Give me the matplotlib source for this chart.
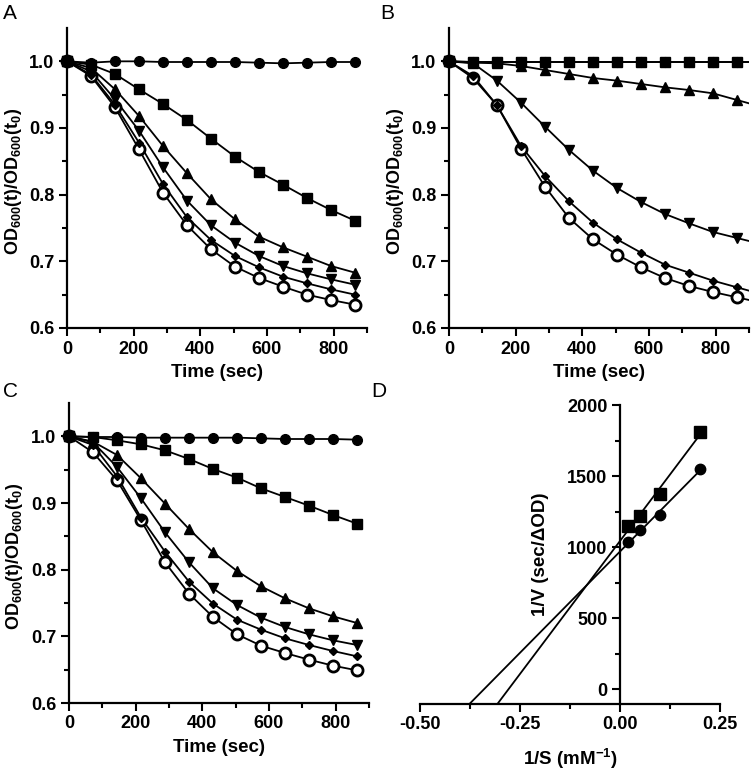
import numpy as np
import matplotlib
matplotlib.use("Agg")
import matplotlib.pyplot as plt
from matplotlib.ticker import MultipleLocator, FixedLocator

plt.rcParams['font.family'] = ['Liberation Sans', 'DejaVu Sans']
plt.rcParams['font.weight'] = 'bold'
plt.rcParams['mathtext.default'] = 'regular'

# ---------------- data ----------------
time_s = [0, 72, 144, 216, 288, 360, 432, 504, 576, 648, 720, 792, 864]

# Panel A
a_circle   = [1.0, 0.998, 1.0, 1.0, 0.999, 0.999, 0.999, 0.999, 0.998, 0.997, 0.998, 0.999, 0.999]
a_square   = [1.0, 0.995, 0.981, 0.958, 0.936, 0.912, 0.884, 0.857, 0.834, 0.815, 0.795, 0.777, 0.761]
a_triup    = [1.0, 0.990, 0.958, 0.918, 0.873, 0.832, 0.793, 0.763, 0.737, 0.721, 0.707, 0.693, 0.683]
a_tridown  = [1.0, 0.985, 0.943, 0.896, 0.841, 0.791, 0.754, 0.728, 0.708, 0.693, 0.682, 0.673, 0.665]
a_diamond  = [1.0, 0.980, 0.935, 0.878, 0.816, 0.766, 0.732, 0.708, 0.691, 0.677, 0.667, 0.658, 0.650]
a_open     = [1.0, 0.978, 0.931, 0.868, 0.803, 0.754, 0.718, 0.692, 0.675, 0.662, 0.650, 0.642, 0.635]

# Panel B
b_circle   = [1.0, 0.999, 0.999, 0.999, 0.999, 0.999, 0.999, 0.999, 0.999, 0.999, 0.999, 0.999, 0.999]
b_square   = [1.0, 0.999, 0.999, 0.999, 0.999, 0.999, 0.999, 0.999, 0.999, 0.999, 0.999, 0.999, 0.999]
b_triup    = [1.0, 0.998, 0.997, 0.993, 0.987, 0.981, 0.975, 0.971, 0.966, 0.961, 0.957, 0.952, 0.942]
b_tridown  = [1.0, 0.997, 0.971, 0.938, 0.902, 0.867, 0.836, 0.810, 0.789, 0.771, 0.757, 0.744, 0.735]
b_diamond  = [1.0, 0.978, 0.934, 0.873, 0.828, 0.790, 0.758, 0.733, 0.713, 0.695, 0.683, 0.671, 0.661]
b_open     = [1.0, 0.975, 0.934, 0.869, 0.812, 0.765, 0.733, 0.710, 0.691, 0.675, 0.663, 0.654, 0.646]

# Panel C
c_circle   = [1.0, 0.999, 0.999, 0.998, 0.998, 0.998, 0.998, 0.998, 0.997, 0.996, 0.996, 0.996, 0.995]
c_square   = [1.0, 0.999, 0.994, 0.988, 0.979, 0.966, 0.951, 0.938, 0.922, 0.909, 0.896, 0.882, 0.869]
c_triup    = [1.0, 0.992, 0.972, 0.937, 0.899, 0.861, 0.826, 0.798, 0.775, 0.757, 0.742, 0.730, 0.720]
c_tridown  = [1.0, 0.991, 0.954, 0.907, 0.856, 0.811, 0.772, 0.747, 0.728, 0.714, 0.703, 0.694, 0.687]
c_diamond  = [1.0, 0.987, 0.940, 0.878, 0.827, 0.782, 0.749, 0.725, 0.710, 0.697, 0.687, 0.678, 0.670]
c_open     = [1.0, 0.976, 0.934, 0.874, 0.811, 0.764, 0.729, 0.703, 0.686, 0.675, 0.665, 0.656, 0.649]

# Panel D (Lineweaver-Burk)
inv_s        = [0.02, 0.05, 0.10, 0.20]
inv_v_square = [1149, 1222, 1374, 1812]
inv_v_circle = [1034, 1121, 1226, 1550]

time_ticks = [0, 200, 400, 600, 800]
od_ticks = [0.6, 0.7, 0.8, 0.9, 1.0]
d_xticks = [-0.50, -0.25, 0.00, 0.25]
d_yticks = [0, 500, 1000, 1500, 2000]

# ---------------- figure ----------------
W, H = 756, 773
fig = plt.figure(figsize=(W / 100, H / 100), dpi=100)

def px_axes(left, top, right, bottom):
    return fig.add_axes([left / W, 1 - bottom / H, (right - left) / W, (bottom - top) / H])

TICK_FS = 13
LAB_FS = 13.5
YLAB_FS = 13
LW = 1.3

# (style, zorder): open circles sit underneath the filled markers
styles = [
    (dict(marker='o', ms=7, mfc='black', mec='black'), 4),
    (dict(marker='s', ms=7, mfc='black', mec='black'), 4),
    (dict(marker='^', ms=7, mfc='black', mec='black'), 4),
    (dict(marker='v', ms=7, mfc='black', mec='black'), 4),
    (dict(marker='D', ms=4.5, mfc='black', mec='black'), 4),
    (dict(marker='o', ms=8, mfc='white', mec='black', mew=2.0), 3),
]

def style_axes(ax):
    for s in ['top', 'right']:
        ax.spines[s].set_visible(False)
    for s in ['left', 'bottom']:
        ax.spines[s].set_linewidth(1.6)
    ax.tick_params(which='major', length=6, width=1.5, labelsize=TICK_FS, pad=3)
    ax.tick_params(which='minor', length=3.5, width=1.5)
    for lab in ax.get_xticklabels() + ax.get_yticklabels():
        lab.set_fontweight('bold')

def kinetic_panel(ax, series, extend=False):
    t = np.array(time_s, dtype=float)
    for vals, (st, z) in zip(series, styles):
        v = np.array(vals, dtype=float)
        tt, vv = t, v
        if extend:
            slope = (v[-1] - v[-2]) / (t[-1] - t[-2])
            tt = np.append(t, 900.0)
            vv = np.append(v, v[-1] + slope * (900.0 - t[-1]))
        ax.plot(tt, vv, '-', color='black', lw=LW, zorder=2)
        ax.plot(t, v, linestyle='none', zorder=z, clip_on=False, **st)
    ax.set_xlim(0, 900)
    ax.set_ylim(0.6, 1.05)
    ax.xaxis.set_major_locator(FixedLocator(time_ticks))
    ax.xaxis.set_minor_locator(MultipleLocator(100))
    ax.yaxis.set_major_locator(FixedLocator(od_ticks))
    ax.yaxis.set_minor_locator(FixedLocator([0.65, 0.75, 0.85, 0.95]))
    ax.set_yticklabels([f"{v:.1f}" for v in od_ticks])
    ax.set_xticklabels([str(v) for v in time_ticks])
    ax.set_xlabel("Time (sec)", fontsize=LAB_FS, fontweight='bold')
    ax.set_ylabel("OD$_{600}$(t)/OD$_{600}$(t$_{0}$)", fontsize=YLAB_FS, fontweight='bold')
    ax.xaxis.set_label_coords(0.5, -0.12)
    ax.yaxis.set_label_coords(-0.145, 0.49)
    style_axes(ax)

axA = px_axes(67, 28, 367, 328)
kinetic_panel(axA, [a_circle, a_square, a_triup, a_tridown, a_diamond, a_open])

axB = px_axes(449, 28, 749, 328)
kinetic_panel(axB, [b_circle, b_square, b_triup, b_tridown, b_diamond, b_open], extend=True)

axC = px_axes(69, 403, 369, 703)
kinetic_panel(axC, [c_circle, c_square, c_triup, c_tridown, c_diamond, c_open])

# Panel D
axD = px_axes(420, 405, 720, 703.5)
ylo, yhi = -100, 2000
x = np.array(inv_s)
for yv, mk, ms in [(inv_v_square, 's', 8), (inv_v_circle, 'o', 7.5)]:
    y = np.array(yv, dtype=float)
    m, b = np.polyfit(x, y, 1)
    x0 = (ylo - b) / m
    xs = np.array([x0, x[-1]])
    axD.plot(xs, m * xs + b, '-', color='black', lw=LW, zorder=2)
    axD.plot(x, y, linestyle='none', marker=mk, ms=ms, color='black', zorder=3)
axD.set_xlim(-0.5, 0.25)
axD.set_ylim(ylo, yhi)
axD.spines['left'].set_position(('data', 0))
axD.spines['left'].set_bounds(ylo, yhi)
axD.xaxis.set_major_locator(FixedLocator(d_xticks))
axD.xaxis.set_minor_locator(FixedLocator([-0.375, -0.125, 0.125]))
axD.yaxis.set_major_locator(FixedLocator(d_yticks))
axD.yaxis.set_minor_locator(FixedLocator([250, 750, 1250, 1750]))
axD.set_xticklabels([f"{v:.2f}" for v in d_xticks])
axD.set_yticklabels([str(v) for v in d_yticks])
axD.set_xlabel("1/S (mM$^{-1}$)", fontsize=LAB_FS, fontweight='bold')
axD.set_ylabel("1/V (sec/ΔOD)", fontsize=LAB_FS, fontweight='bold')
axD.xaxis.set_label_coords(0.5, -0.145)
axD.yaxis.set_label_coords(0.43, 0.5)
style_axes(axD)

# panel letters
for lbl, (xp, yp) in {"A": (3, 4), "B": (380, 4), "C": (3, 382), "D": (371, 382)}.items():
    fig.text(xp / W, 1 - yp / H, lbl, fontsize=15, fontweight='normal', ha='left', va='top')

fig.savefig("out.png", dpi=100)
